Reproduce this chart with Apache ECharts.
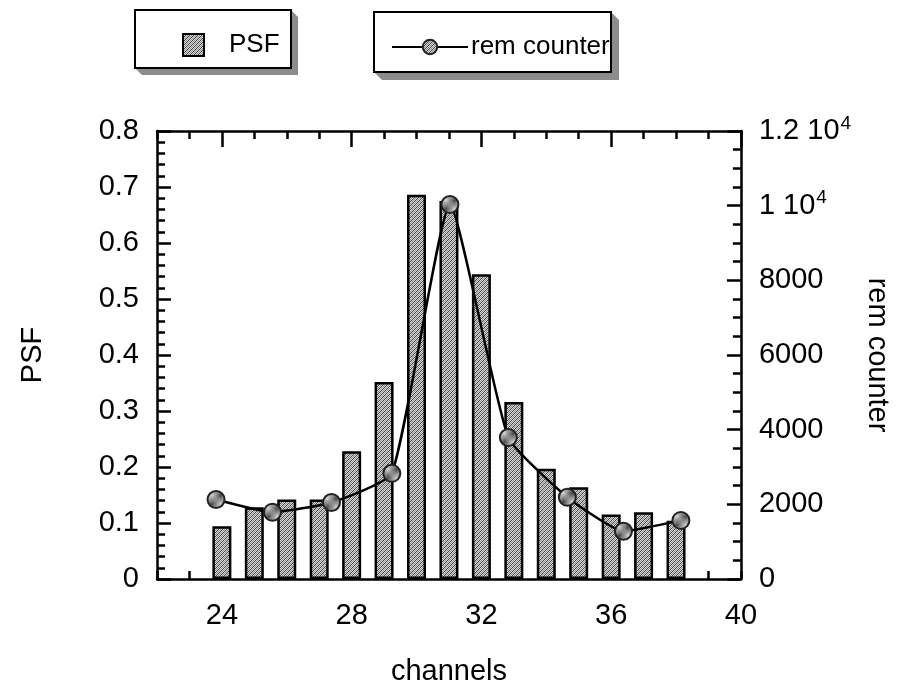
<!DOCTYPE html>
<html>
<head>
<meta charset="utf-8">
<script src="https://cdn.jsdelivr.net/npm/echarts@6/dist/echarts.min.js"></script>
<style>
html,body{margin:0;padding:0;background:#fff;}
#chart{width:899px;height:691px;}
</style>
</head>
<body>
<div id="chart"></div>
<script>
// ---- data ----
var psfChannels = [24, 25, 26, 27, 28, 29, 30, 31, 32, 33, 34, 35, 36, 37, 38];
var psfValues   = [0.094, 0.128, 0.142, 0.142, 0.228, 0.352, 0.686, 0.675, 0.544, 0.316, 0.197, 0.164, 0.115, 0.119, 0.104];
var remChannels = [23.82, 25.56, 27.38, 29.24, 31.03, 32.83, 34.65, 36.38, 38.15];
var remValues   = [2130, 1790, 2050, 2830, 10030, 3790, 2190, 1280, 1570];
var xTicks = [24, 28, 32, 36, 40];
var leftTicks = [0, 0.1, 0.2, 0.3, 0.4, 0.5, 0.6, 0.7, 0.8];
var rightTicks = [0, 2000, 4000, 6000, 8000, 10000, 12000];

function makePattern() {
  var c = document.createElement('canvas');
  c.width = 4; c.height = 4;
  var g = c.getContext('2d');
  g.fillStyle = '#d4d4d4';
  g.fillRect(0, 0, 4, 4);
  g.fillStyle = '#454545';
  for (var i = 0; i < 4; i++) { g.fillRect(i, 3 - i, 1, 1); }
  g.fillStyle = '#909090';
  for (var j = 0; j < 4; j++) { g.fillRect((j + 2) % 4, 3 - j, 1, 1); }
  return c;
}
var pattern = { image: makePattern(), repeat: 'repeat' };

var psfData = psfChannels.map(function (c, i) { return [c, psfValues[i]]; });
var remData = remChannels.map(function (c, i) { return [c, remValues[i]]; });

var FONT = '"Liberation Sans", Arial, Helvetica, sans-serif';
var FS = 29;
var chart = echarts.init(document.getElementById('chart'));

var axisLine = { show: true, onZero: false, lineStyle: { color: '#000', width: 2.5 } };
var tickStyle = { color: '#000', width: 2.5 };
var option = {
  animation: false,
  backgroundColor: '#fff',
  textStyle: { fontFamily: FONT, color: '#000' },
  grid: [
    { left: 157, right: 158, top: 131, bottom: 110 },
    { left: 157, right: 158, top: 131, bottom: 110 }
  ],
  legend: [
    {
      data: [{ name: 'PSF', icon: 'rect' }], left: 177, top: 27, itemWidth: 21, itemHeight: 22,
      textStyle: { fontFamily: FONT, fontSize: 26, color: '#000', padding: [0, 0, 0, 20] },
      selectedMode: false
    },
    {
      data: ['rem counter'], left: 386, top: 29, itemWidth: 76, itemHeight: 18,
      textStyle: { fontFamily: FONT, fontSize: 26, color: '#000', padding: [0, 0, 0, -2] },
      selectedMode: false
    }
  ],
  graphic: [
    { type: 'polygon', shape: { points: [[291, 10], [298, 17], [298, 75], [142, 75], [135, 68], [291, 68]] }, style: { fill: '#8c8c8c' }, z: 1 },
    { type: 'rect', shape: { x: 135, y: 10, width: 156, height: 58 }, style: { fill: '#fff', stroke: '#000', lineWidth: 2 }, z: 2 },
    { type: 'polygon', shape: { points: [[611, 12], [619, 20], [619, 80], [382, 80], [374, 72], [611, 72]] }, style: { fill: '#8c8c8c' }, z: 1 },
    { type: 'rect', shape: { x: 374, y: 12, width: 237, height: 60 }, style: { fill: '#fff', stroke: '#000', lineWidth: 2 }, z: 2 }
  ],
  xAxis: [
    {
      gridIndex: 0, type: 'value', min: 22, max: 40, interval: 1, position: 'bottom',
      name: 'channels', nameLocation: 'middle', nameGap: 78,
      nameTextStyle: { fontFamily: FONT, fontSize: FS, color: '#000' },
      axisLine: axisLine,
      axisTick: { show: true, inside: true, length: 8, lineStyle: tickStyle },
      axisLabel: {
        fontFamily: FONT, fontSize: FS, color: '#000', margin: 22,
        formatter: function (v) { return xTicks.indexOf(v) >= 0 ? String(v) : ''; }
      },
      splitLine: { show: false }
    },
    {
      gridIndex: 0, type: 'value', min: 22, max: 40, interval: 1, position: 'top',
      axisLine: axisLine,
      axisTick: { show: true, inside: true, length: 8, lineStyle: tickStyle },
      axisLabel: { show: false },
      splitLine: { show: false }
    },
    {
      gridIndex: 1, type: 'value', min: 22, max: 40, interval: 1, position: 'top',
      axisLine: { show: false, onZero: false },
      axisTick: { show: true, inside: true, length: 16, customValues: xTicks, lineStyle: tickStyle },
      axisLabel: { show: false },
      splitLine: { show: false }
    }
  ],
  yAxis: [
    {
      gridIndex: 0, type: 'value', min: 0, max: 0.8, interval: 0.1, position: 'left',
      name: 'PSF', nameLocation: 'middle', nameGap: 110, nameRotate: 90,
      nameTextStyle: { fontFamily: FONT, fontSize: FS, color: '#000' },
      axisLine: axisLine,
      axisTick: { show: true, inside: true, length: 14, lineStyle: tickStyle },
      minorTick: { show: true, splitNumber: 5, length: 8, lineStyle: tickStyle },
      axisLabel: {
        fontFamily: FONT, fontSize: FS, color: '#000', margin: 18,
        formatter: function (v) { var r = Math.round(v * 10) / 10; return leftTicks.indexOf(r) >= 0 ? String(r) : ''; }
      },
      splitLine: { show: false }
    },
    {
      gridIndex: 0, type: 'value', min: 0, max: 12000, interval: 2000, position: 'right',
      name: 'rem counter', nameLocation: 'middle', nameGap: 118, nameRotate: -90,
      nameTextStyle: { fontFamily: FONT, fontSize: FS, color: '#000' },
      axisLine: axisLine,
      axisTick: { show: true, inside: true, length: 14, lineStyle: tickStyle },
      minorTick: { show: true, splitNumber: 4, length: 8, lineStyle: tickStyle },
      axisLabel: {
        fontFamily: FONT, fontSize: FS, color: '#000', margin: 18,
        formatter: function (v) {
          if (rightTicks.indexOf(v) < 0) return '';
          if (v === 12000) return '1.2 10{s|4}';
          if (v === 10000) return '1 10{s|4}';
          return String(v);
        },
        rich: { s: { fontFamily: FONT, fontSize: 19, color: '#000', verticalAlign: 'bottom', padding: [0, 0, 15, 1] } }
      },
      splitLine: { show: false }
    },
    {
      gridIndex: 1, type: 'value', min: 0, max: 1, show: false
    }
  ],
  series: [
    {
      name: 'PSF', type: 'bar', xAxisIndex: 0, yAxisIndex: 0, barWidth: 19,
      data: psfData,
      itemStyle: { color: pattern, borderColor: '#000', borderWidth: 2.5 },
      z: 2
    },
    {
      name: 'rem counter', type: 'line', xAxisIndex: 0, yAxisIndex: 1,
      data: remData, smooth: 0.15,
      symbol: 'circle', symbolSize: 17,
      lineStyle: { color: '#000', width: 2.5 },
      itemStyle: { color: pattern, borderColor: '#222', borderWidth: 2 },
      z: 3
    }
  ]
};
chart.setOption(option);
</script>
</body>
</html>
